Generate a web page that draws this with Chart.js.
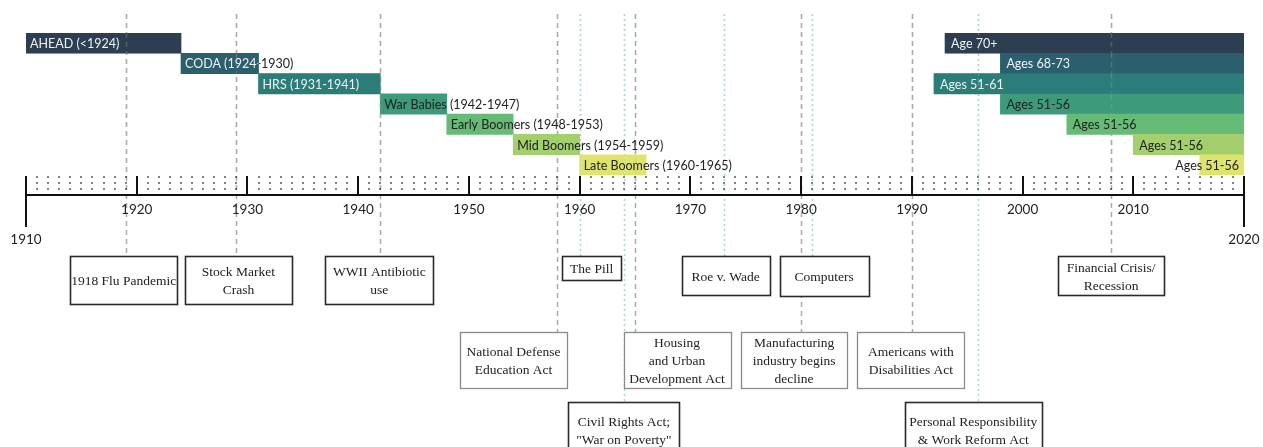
<!DOCTYPE html>
<html>
<head>
<meta charset="utf-8">
<script src="https://cdn.jsdelivr.net/npm/chart.js@4"></script>
<style>
html,body{margin:0;padding:0;background:#fff;}
#c{display:block;}
</style>
</head>
<body>
<canvas id="c" width="1263" height="447"></canvas>
<script>
// ---------- DATA ----------
const rowIds = ['AHEAD','CODA','HRS','War Babies','Early Boomers','Mid Boomers','Late Boomers'];
const cohortLabels = ['AHEAD (<1924)','CODA (1924-1930)','HRS (1931-1941)','War Babies (1942-1947)','Early Boomers (1948-1953)','Mid Boomers (1954-1959)','Late Boomers (1960-1965)'];
const cohortStart = [1910,1924,1931,1942,1948,1954,1960];
const cohortEnd   = [1924,1931,1942,1948,1954,1960,1966];
const entryLabels = ['Age 70+','Ages 68-73','Ages 51-61','Ages 51-56','Ages 51-56','Ages 51-56','Ages 51-56'];
const entryStart  = [1993,1998,1992,1998,2004,2010,2016];
const entryEnd    = [2020,2020,2020,2020,2020,2020,2020];
const axisMin = 1910, axisMax = 2020;
const majorTicks = [1910,1920,1930,1940,1950,1960,1970,1980,1990,2000,2010,2020];
const eventLabels = [
  ['1918 Flu Pandemic'],
  ['Stock Market','Crash'],
  ['WWII Antibiotic','use'],
  ['National Defense','Education Act'],
  ['The Pill'],
  ['Civil Rights Act;','"War on Poverty"'],
  ['Housing','and Urban','Development Act'],
  ['Roe v. Wade'],
  ['Manufacturing','industry begins','decline'],
  ['Computers'],
  ['Americans with','Disabilities Act'],
  ['Personal Responsibility','& Work Reform Act'],
  ['Financial Crisis/','Recession']
];
const eventYears = [1919,1929,1942,1958,1960,1964,1965,1973,1980,1981,1990,1996,2008];

// ---------- STYLE / LAYOUT ----------
const rowColors = ['#2c3e50','#2c5f6d','#2a7d78','#3d9b7b','#66bb77','#a3cf6c','#dfe46c'];
const whiteTextRows = [true,true,true,false,false,false,false];
// line style: 'dash' gray, 'dot' teal
const eventLineStyle = ['dash','dash','dash','dash','dot','dot','dash','dot','dash','dot','dash','dot','dash'];
// box layout: dx (px offset of box centre from event line), w, h, tier, dark border
const eventBox = [
  {dx:-2, w:107,h:48,tier:0,dark:true},
  {dx:2,  w:107,h:48,tier:0,dark:true},
  {dx:-1, w:108,h:48,tier:0,dark:true},
  {dx:-44,w:107,h:56,tier:1,dark:false},
  {dx:12, w:59, h:24,tier:0,dark:true},
  {dx:0,  w:111,h:56,tier:2,dark:true},
  {dx:42, w:107,h:56,tier:1,dark:false},
  {dx:2,  w:88, h:39,tier:0,dark:true},
  {dx:-7, w:106,h:56,tier:1,dark:false},
  {dx:12, w:89, h:40,tier:0,dark:true},
  {dx:-1, w:107,h:56,tier:1,dark:false},
  {dx:-5, w:137,h:56,tier:2,dark:true},
  {dx:0,  w:106,h:39,tier:0,dark:true}
];
const tierTop = [256,332,402];
const sansFont = "'Lato','Open Sans',sans-serif";
const serifFont = "'Liberation Serif','DejaVu Serif',serif";

function drawEventLines(chart, yTopLimit, yBottomLimit){
  const ctx = chart.ctx, xs = chart.scales.x;
  eventYears.forEach((yr,i)=>{
    const x = Math.round(xs.getPixelForValue(yr))+0.5;
    const b = eventBox[i];
    ctx.beginPath();
    if(eventLineStyle[i]==='dash'){ctx.strokeStyle='#ababab';ctx.setLineDash([5,4]);ctx.lineWidth=1.5;}
    else {ctx.strokeStyle='#a6dacb';ctx.setLineDash([2,3]);ctx.lineWidth=1.5;}
    ctx.moveTo(x,yTopLimit);
    ctx.lineTo(x,Math.min(yBottomLimit, tierTop[b.tier]));
    ctx.stroke();
  });
}

const timelinePlugin = {
  id:'timeline',
  beforeDatasetsDraw(chart){
    const ctx = chart.ctx;
    ctx.save();
    drawEventLines(chart, 14, 9999);
    ctx.restore();
  },
  afterDatasetsDraw(chart){
    const ctx = chart.ctx, xs = chart.scales.x;
    ctx.save();
    // faint lines showing through bars
    ctx.globalAlpha = 0.3;
    drawEventLines(chart, 14, chart.chartArea.bottom);
    ctx.globalAlpha = 1;
    ctx.setLineDash([]);
    // bar labels
    ctx.font = "12.5px " + sansFont;
    ctx.textBaseline = 'middle';
    [0,1].forEach(di=>{
      const meta = chart.getDatasetMeta(di);
      const labels = di===0 ? cohortLabels : entryLabels;
      meta.data.forEach((el,j)=>{
        const p = el.getProps(['x','base','y','height'],true);
        const left = Math.min(p.x,p.base), right = Math.max(p.x,p.base);
        const txt = labels[j];
        const tw = ctx.measureText(txt).width;
        let tx = left + (di===0 ? 4 : 6);
        if(tx + tw > right && di===1){ tx = right - 5 - tw; }
        ctx.textAlign='left';
        ctx.fillStyle = '#222';
        ctx.fillText(txt, tx, p.y+1);
        if(whiteTextRows[j]){
          ctx.save();
          ctx.beginPath();
          ctx.rect(left, p.y-p.height/2, right-left, p.height);
          ctx.clip();
          ctx.fillStyle = rowColors[j];
          ctx.fillRect(left, p.y-p.height/2, right-left, p.height);
          ctx.globalAlpha = 0.3;
          drawEventLines(chart, p.y-p.height/2, p.y+p.height/2);
          ctx.globalAlpha = 1;
          ctx.setLineDash([]);
          ctx.fillStyle = '#eef2f3';
          ctx.fillText(txt, tx, p.y+1);
          ctx.restore();
        }
      });
    });
    // axis
    const x0 = xs.getPixelForValue(axisMin), x1 = xs.getPixelForValue(axisMax);
    const axY = 195;
    ctx.strokeStyle = '#111';
    ctx.lineWidth = 2;
    ctx.beginPath(); ctx.moveTo(x0,axY); ctx.lineTo(x1,axY); ctx.stroke();
    majorTicks.forEach(t=>{
      const x = Math.round(xs.getPixelForValue(t));
      const end = (t===axisMin||t===axisMax) ? 227 : axY;
      ctx.beginPath(); ctx.moveTo(x,176); ctx.lineTo(x,end); ctx.stroke();
    });
    ctx.fillStyle = '#222';
    for(let yr=axisMin+1; yr<axisMax; yr++){
      if(yr%10===0) continue;
      const x = Math.round(xs.getPixelForValue(yr));
      [177,183,189].forEach(yy=>{ ctx.fillRect(x-0.75,yy-0.75,1.5,1.5); });
    }
    ctx.font = "13.5px " + sansFont;
    ctx.textAlign='center';
    ctx.textBaseline='middle';
    majorTicks.forEach(t=>{
      const x = xs.getPixelForValue(t);
      const y = (t===axisMin||t===axisMax) ? 240 : 210;
      ctx.fillText(String(t), x, y);
    });
    // event boxes
    eventYears.forEach((yr,i)=>{
      const b = eventBox[i];
      const cx = xs.getPixelForValue(yr) + b.dx;
      const top = tierTop[b.tier];
      const lx = Math.round(cx - b.w/2)+0.5;
      ctx.fillStyle='#fff';
      ctx.fillRect(lx, top, b.w, b.h);
      ctx.strokeStyle = b.dark ? '#2a2a2a' : '#8a8a8a';
      ctx.lineWidth = b.dark ? 1.6 : 1.3;
      ctx.strokeRect(lx, top+0.5, b.w, b.h);
      ctx.fillStyle='#222';
      ctx.font = "13.5px " + serifFont;
      ctx.textAlign='center';
      ctx.textBaseline='middle';
      const lines = eventLabels[i];
      const lh = 18;
      const startY = top + b.h/2 - (lines.length-1)*lh/2 + 1.5;
      lines.forEach((ln,k)=>ctx.fillText(ln, cx, startY + k*lh));
    });
    ctx.restore();
  }
};

new Chart(document.getElementById('c'), {
  type:'bar',
  data:{
    labels: rowIds,
    datasets:[
      {label:'Birth cohort', data: cohortStart.map((s,i)=>[s,cohortEnd[i]]), backgroundColor: rowColors, borderWidth:0, borderSkipped:false, grouped:false, barPercentage:1, categoryPercentage:1},
      {label:'Study entry', data: entryStart.map((s,i)=>[s,entryEnd[i]]), backgroundColor: rowColors, borderWidth:0, borderSkipped:false, grouped:false, barPercentage:1, categoryPercentage:1}
    ]
  },
  options:{
    indexAxis:'y',
    responsive:false,
    animation:false,
    devicePixelRatio:1,
    layout:{padding:{left:26,right:19,top:33,bottom:272}},
    scales:{
      x:{type:'linear',min:axisMin,max:axisMax,display:false},
      y:{type:'category',display:false,offset:true}
    },
    plugins:{legend:{display:false},tooltip:{enabled:false}}
  },
  plugins:[timelinePlugin]
});
</script>
</body>
</html>
